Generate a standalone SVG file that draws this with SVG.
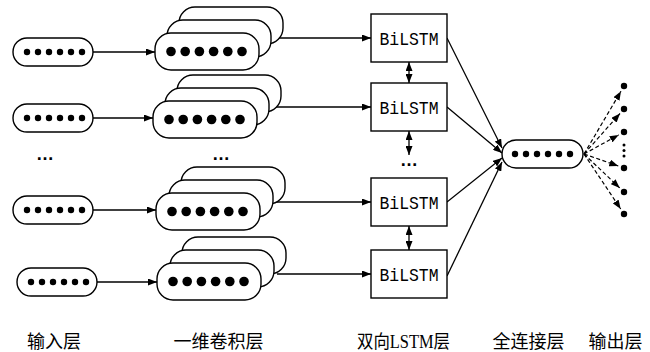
<svg xmlns="http://www.w3.org/2000/svg" width="650" height="352" viewBox="0 0 650 352">
<style>
.sh{fill:#fff;stroke:#000;stroke-width:1.4}
.ln{fill:none;stroke:#000;stroke-width:1.3}
.da{fill:none;stroke:#000;stroke-width:1.2;stroke-dasharray:4 2.5}
.d{fill:#000}
.bt{font-family:"Liberation Mono",monospace;font-size:18px;text-anchor:middle}
.lb{font-family:"Liberation Serif","Noto Sans CJK SC",serif;font-size:18px;text-anchor:middle}
.el{font-family:"Liberation Sans",sans-serif;font-size:18px;font-weight:bold;text-anchor:middle}
</style>
<defs>
<marker id="ah" viewBox="0 0 9 7" refX="9" refY="3.5" markerWidth="9" markerHeight="7" markerUnits="userSpaceOnUse" orient="auto-start-reverse"><path d="M0,0 L9,3.5 L0,7 z"/></marker>
<g id="sdots"><circle cx="0" cy="0" r="3.2"/><circle cx="11" cy="0" r="3.2"/><circle cx="22" cy="0" r="3.2"/><circle cx="33" cy="0" r="3.2"/><circle cx="44" cy="0" r="3.2"/><circle cx="55" cy="0" r="3.2"/></g>
<g id="bdots"><circle cx="0" cy="0" r="4.8"/><circle cx="14.2" cy="0" r="4.8"/><circle cx="28.4" cy="0" r="4.8"/><circle cx="42.6" cy="0" r="4.8"/><circle cx="56.8" cy="0" r="4.8"/><circle cx="71" cy="0" r="4.8"/></g>
</defs>
<rect width="650" height="352" fill="#fff"/>
<g id="connectors">
<line class="ln" x1="93" y1="52" x2="155" y2="52" marker-end="url(#ah)"/>
<line class="ln" x1="93" y1="118" x2="153" y2="118" marker-end="url(#ah)"/>
<line class="ln" x1="93" y1="210" x2="156" y2="210" marker-end="url(#ah)"/>
<line class="ln" x1="97" y1="282" x2="157" y2="282" marker-end="url(#ah)"/>
<line class="ln" x1="275" y1="38" x2="371" y2="38" marker-end="url(#ah)"/>
<line class="ln" x1="273" y1="107" x2="371" y2="107" marker-end="url(#ah)"/>
<line class="ln" x1="276" y1="202" x2="371" y2="202" marker-end="url(#ah)"/>
<line class="ln" x1="277" y1="274" x2="371" y2="274" marker-end="url(#ah)"/>
<line class="ln" x1="409" y1="62" x2="409" y2="83" marker-start="url(#ah)" marker-end="url(#ah)"/>
<line class="ln" x1="409" y1="131" x2="409" y2="155" marker-start="url(#ah)" marker-end="url(#ah)"/>
<line class="ln" x1="409" y1="226" x2="409" y2="250" marker-start="url(#ah)" marker-end="url(#ah)"/>
<line class="ln" x1="447" y1="38" x2="502" y2="148" marker-end="url(#ah)"/>
<line class="ln" x1="447" y1="107" x2="502" y2="153" marker-end="url(#ah)"/>
<line class="ln" x1="447" y1="202" x2="502" y2="158" marker-end="url(#ah)"/>
<line class="ln" x1="447" y1="276" x2="502" y2="162" marker-end="url(#ah)"/>
<line class="da" x1="584" y1="154" x2="621" y2="91.2" marker-end="url(#ah)"/>
<line class="da" x1="584" y1="154" x2="620" y2="113.5" marker-end="url(#ah)"/>
<line class="da" x1="584" y1="154" x2="618.7" y2="134.9" marker-end="url(#ah)"/>
<line class="da" x1="584" y1="154" x2="618.3" y2="166" marker-end="url(#ah)"/>
<line class="da" x1="584" y1="154" x2="619.7" y2="187.9" marker-end="url(#ah)"/>
<line class="da" x1="584" y1="154" x2="620.7" y2="209" marker-end="url(#ah)"/>
</g>
<g id="input1"><rect class="sh" x="13" y="38" width="80" height="28" rx="14"/><use href="#sdots" x="27" y="52"/></g>
<g id="input2"><rect class="sh" x="13" y="104" width="80" height="28" rx="14"/><use href="#sdots" x="27" y="118"/></g>
<text class="el" x="45" y="160">…</text>
<g id="input3"><rect class="sh" x="13" y="196" width="80" height="28" rx="14"/><use href="#sdots" x="27" y="210"/></g>
<g id="input4"><rect class="sh" x="17" y="268" width="80" height="28" rx="14"/><use href="#sdots" x="31" y="282"/></g>
<g id="conv1"><rect class="sh" x="179" y="7" width="104" height="37" rx="16"/><rect class="sh" x="167" y="20" width="104" height="37" rx="16"/><rect class="sh" x="155" y="33" width="104" height="37" rx="16"/><use href="#bdots" x="171" y="51.5"/></g>
<g id="conv2"><rect class="sh" x="177" y="75" width="104" height="37" rx="16"/><rect class="sh" x="165" y="88" width="104" height="37" rx="16"/><rect class="sh" x="153" y="101" width="104" height="37" rx="16"/><use href="#bdots" x="169" y="119.5"/></g>
<text class="el" x="221" y="160">…</text>
<g id="conv3"><rect class="sh" x="181" y="167" width="104" height="37" rx="16"/><rect class="sh" x="169" y="180" width="104" height="37" rx="16"/><rect class="sh" x="156" y="193" width="104" height="37" rx="16"/><use href="#bdots" x="172" y="211.5"/></g>
<g id="conv4"><rect class="sh" x="182" y="237" width="104" height="37" rx="16"/><rect class="sh" x="170" y="250" width="104" height="37" rx="16"/><rect class="sh" x="157" y="263" width="104" height="37" rx="16"/><use href="#bdots" x="173" y="281.5"/></g>
<g id="bilstm1"><rect class="sh" x="371" y="14" width="76" height="48"/><text class="bt" x="409" y="44.5" textLength="59" lengthAdjust="spacingAndGlyphs">BiLSTM</text></g>
<g id="bilstm2"><rect class="sh" x="371" y="83" width="76" height="48"/><text class="bt" x="409" y="113.5" textLength="59" lengthAdjust="spacingAndGlyphs">BiLSTM</text></g>
<text class="el" x="409" y="166">…</text>
<g id="bilstm3"><rect class="sh" x="371" y="178" width="76" height="48"/><text class="bt" x="409" y="208.5" textLength="59" lengthAdjust="spacingAndGlyphs">BiLSTM</text></g>
<g id="bilstm4"><rect class="sh" x="371" y="250" width="76" height="48"/><text class="bt" x="409" y="280.5" textLength="59" lengthAdjust="spacingAndGlyphs">BiLSTM</text></g>
<g id="fc"><rect class="sh" x="502" y="140" width="81" height="28" rx="14"/><use href="#sdots" x="515" y="154"/></g>
<g id="output">
<circle class="d" cx="624" cy="86" r="3.2"/><circle class="d" cx="624" cy="109" r="3.2"/><circle class="d" cx="624" cy="132" r="3.2"/>
<circle class="d" cx="624" cy="145" r="1.5"/><circle class="d" cx="624" cy="150.5" r="1.5"/><circle class="d" cx="624" cy="156" r="1.5"/>
<circle class="d" cx="624" cy="168" r="3.2"/><circle class="d" cx="624" cy="192" r="3.2"/><circle class="d" cx="624" cy="214" r="3.2"/>
</g>
<g id="labels">
<text class="lb" x="54" y="348">输入层</text>
<text class="lb" x="218.5" y="348">一维卷积层</text>
<text class="lb" x="403.5" y="348" textLength="93" lengthAdjust="spacingAndGlyphs">双向LSTM层</text>
<text class="lb" x="528.5" y="348">全连接层</text>
<text class="lb" x="615.5" y="348">输出层</text>
</g>
</svg>
